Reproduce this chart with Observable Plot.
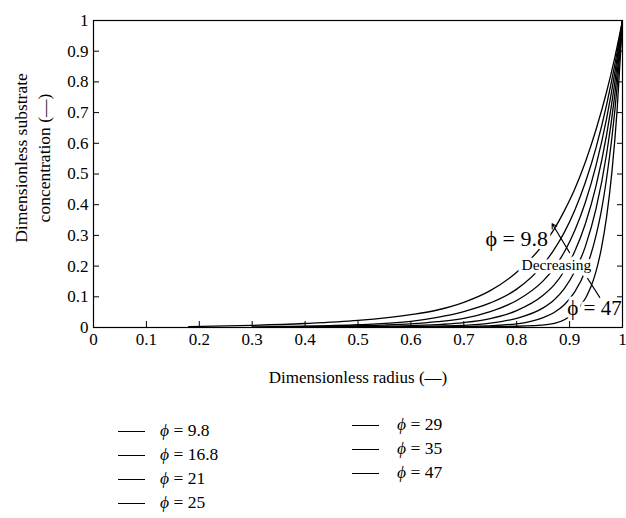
<!DOCTYPE html>
<html>
<head>
<meta charset="utf-8">
<script src="https://cdn.jsdelivr.net/npm/d3@7"></script>
<script src="https://cdn.jsdelivr.net/npm/@observablehq/plot@0.6"></script>
<style>
  body { margin: 0; background: #fff; font-family: "Liberation Serif", "DejaVu Serif", serif; }
  #chart { position: relative; width: 626px; height: 518px; }
  #chart svg, #chart svg text { font-family: "Liberation Serif", "DejaVu Serif", serif !important; }
  #chart svg g[aria-label="x-axis tick label"],
  #chart svg g[aria-label="y-axis tick label"],
  #chart svg g[aria-label="x-axis tick label"] text,
  #chart svg g[aria-label="y-axis tick label"] text { font-size: 17px !important; font-variant: normal !important; }
  .legend-item { position: absolute; display: flex; align-items: center; font-size: 17.5px; color: #000; white-space: pre; line-height: 1; }
  .legend-item .swatch { width: 27px; height: 0; border-top: 1.4px solid #000; }
  .legend-item .phi { font-style: italic; }
</style>
</head>
<body>
<div id="chart"></div>
<script>
// Thiele modulus of each profile
const phiValues = [9.8, 16.8, 21, 25, 29, 35, 47];

// Dimensionless radius / substrate concentration, one pair per profile
const radius_9_8 = [0.18, 0.3, 0.4, 0.5, 0.6, 0.65, 0.7, 0.75, 0.8, 0.85, 0.87, 0.89, 0.91, 0.93, 0.95, 0.97, 0.985, 1];
const conc_9_8   = [0.003, 0.007, 0.013, 0.023, 0.042, 0.057, 0.082, 0.12, 0.18, 0.27, 0.318, 0.38, 0.452, 0.54, 0.645, 0.768, 0.876, 1];

const radius_16_8 = [0.3, 0.4, 0.5, 0.6, 0.65, 0.7, 0.75, 0.8, 0.85, 0.87, 0.89, 0.91, 0.93, 0.95, 0.97, 0.985, 1];
const conc_16_8   = [0.002, 0.004, 0.009, 0.02, 0.033, 0.052, 0.08, 0.125, 0.205, 0.252, 0.31, 0.383, 0.474, 0.586, 0.726, 0.852, 1];

const radius_21 = [0.35, 0.45, 0.55, 0.6, 0.65, 0.7, 0.75, 0.8, 0.85, 0.87, 0.89, 0.91, 0.93, 0.95, 0.97, 0.985, 1];
const conc_21   = [0.002, 0.004, 0.008, 0.012, 0.019, 0.03, 0.052, 0.088, 0.152, 0.192, 0.246, 0.317, 0.409, 0.528, 0.681, 0.825, 1];

const radius_25 = [0.4, 0.5, 0.6, 0.7, 0.75, 0.8, 0.85, 0.87, 0.89, 0.91, 0.93, 0.95, 0.97, 0.985, 1];
const conc_25   = [0.002, 0.003, 0.006, 0.016, 0.029, 0.055, 0.105, 0.137, 0.184, 0.249, 0.339, 0.461, 0.628, 0.793, 1];

const radius_29 = [0.45, 0.6, 0.7, 0.75, 0.8, 0.85, 0.87, 0.89, 0.91, 0.93, 0.95, 0.97, 0.985, 1];
const conc_29   = [0.001, 0.003, 0.007, 0.014, 0.03, 0.064, 0.089, 0.127, 0.183, 0.265, 0.387, 0.566, 0.752, 1];

const radius_35 = [0.55, 0.7, 0.8, 0.85, 0.87, 0.89, 0.91, 0.93, 0.95, 0.96, 0.97, 0.98, 0.99, 1];
const conc_35   = [0.001, 0.003, 0.012, 0.032, 0.048, 0.074, 0.117, 0.186, 0.3, 0.38, 0.487, 0.619, 0.787, 1];

const radius_47 = [0.65, 0.8, 0.86, 0.9, 0.92, 0.94, 0.95, 0.96, 0.97, 0.98, 0.99, 1];
const conc_47   = [0.001, 0.004, 0.01, 0.036, 0.068, 0.131, 0.183, 0.257, 0.361, 0.507, 0.712, 1];

const xTicks = [0, 0.1, 0.2, 0.3, 0.4, 0.5, 0.6, 0.7, 0.8, 0.9, 1];
const yTicks = [0, 0.1, 0.2, 0.3, 0.4, 0.5, 0.6, 0.7, 0.8, 0.9, 1];

const radii = [radius_9_8, radius_16_8, radius_21, radius_25, radius_29, radius_35, radius_47];
const concs = [conc_9_8, conc_16_8, conc_21, conc_25, conc_29, conc_35, conc_47];

// Long table: one row per point, tagged with its modulus
const profiles = phiValues.flatMap((phi, i) =>
  radii[i].map((r, j) => ({phi, r, c: concs[i][j]}))
);

const serif = "Liberation Serif";
const halo = {stroke: "white", strokeWidth: 7, fill: "black", fontFamily: serif};

const chart = Plot.plot({
  width: 626,
  height: 395,
  marginTop: 20,
  marginRight: 4,
  marginBottom: 68,
  marginLeft: 93,
  style: {fontFamily: serif, fontSize: "17px", color: "black", background: "white"},
  x: {domain: [0, 1]},
  y: {domain: [0, 1]},
  marks: [
    Plot.line(profiles, {x: "r", y: "c", z: "phi", stroke: "black", strokeWidth: 1.3, curve: "monotone-x", clip: true}),
    // In-plot annotations
    Plot.text(["ϕ = 9.8"], {x: 0.8, y: 0.29, text: d => d, fontSize: 22, ...halo}),
    Plot.text(["Decreasing"], {x: 0.875, y: 0.205, text: d => d, fontSize: 15.5, ...halo}),
    Plot.text(["ϕ = 47"], {x: 0.947, y: 0.062, text: d => d, fontSize: 21, ...halo}),
    Plot.arrow([0], {x1: 0.9, y1: 0.244, x2: 0.867, y2: 0.338, stroke: "black", strokeWidth: 1.1, headLength: 7, bend: false}),
    Plot.arrow([0], {x1: 0.934, y1: 0.16, x2: 0.957, y2: 0.098, stroke: "black", strokeWidth: 1.1, headLength: 0, bend: false}),
    Plot.frame({stroke: "black", strokeWidth: 1.2}),
    Plot.axisX({ticks: xTicks, tickSize: -6, tickPadding: 11, tickFormat: d => String(d), label: null, fontSize: 17, fontFamily: serif}),
    Plot.axisY({ticks: yTicks, tickSize: -6, tickPadding: 11, tickFormat: d => String(d), label: null, fontSize: 17, fontFamily: serif}),
    Plot.axisY({anchor: "right", ticks: yTicks, tickSize: -6, tickFormat: () => "", label: null}),
    // Axis titles
    Plot.text(["Dimensionless radius (—)"], {frameAnchor: "bottom", dy: 55, text: d => d, fontSize: 17, fontFamily: serif}),
    Plot.text(["Dimensionless substrate\nconcentration (—)"], {frameAnchor: "left", textAnchor: "middle", rotate: -90, dx: -62, dy: -16, text: d => d, fontSize: 17.5, lineHeight: 1.3, fontFamily: serif})
  ]
});

const root = document.getElementById("chart");
chart.style.position = "absolute";
chart.style.left = "0px";
chart.style.top = "0px";
root.appendChild(chart);

// Legend: two columns of short black swatches
const legendLeft = {swatchX: 118, textGap: 15};
const legendRight = {swatchX: 352, textGap: 18};
const legendRows = [
  {phi: "9.8",  col: legendLeft,  y: 431},
  {phi: "16.8", col: legendLeft,  y: 455},
  {phi: "21",   col: legendLeft,  y: 479},
  {phi: "25",   col: legendLeft,  y: 503},
  {phi: "29",   col: legendRight, y: 425},
  {phi: "35",   col: legendRight, y: 449},
  {phi: "47",   col: legendRight, y: 473}
];
for (const row of legendRows) {
  const item = document.createElement("div");
  item.className = "legend-item";
  item.style.left = row.col.swatchX + "px";
  item.style.top = (row.y - 9) + "px";
  item.style.height = "18px";
  const sw = document.createElement("span");
  sw.className = "swatch";
  sw.style.marginRight = row.col.textGap + "px";
  item.appendChild(sw);
  const phi = document.createElement("span");
  phi.className = "phi";
  phi.textContent = "ϕ";
  item.appendChild(phi);
  item.appendChild(document.createTextNode(" = " + row.phi));
  root.appendChild(item);
}
</script>
</body>
</html>
